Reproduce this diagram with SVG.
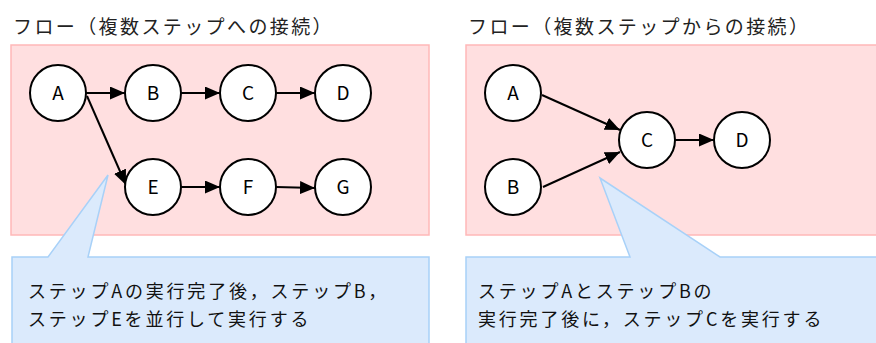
<svg xmlns="http://www.w3.org/2000/svg" width="876" height="343" viewBox="0 0 876 343">
<defs>
<style>
.panel{fill:#ffdfe0;stroke:#ffb8b8;stroke-width:1.5}
.callout{fill:#dbeafc;stroke:#a8d1f8;stroke-width:1.5}
.node circle{fill:#fff;stroke:#000;stroke-width:2}
.node text{font-family:"Noto Sans CJK JP","Liberation Sans",sans-serif;font-size:19px;text-anchor:middle;fill:#000}
.title{font-family:"Noto Sans CJK JP","Liberation Sans",sans-serif;font-size:19px;letter-spacing:2.4px;fill:#222}
.note{font-family:"Noto Sans CJK JP","Liberation Sans",sans-serif;font-size:18px;letter-spacing:2.8px;fill:#111}
.conn{stroke:#000;stroke-width:2;fill:none;marker-end:url(#arrow)}
</style>
<marker id="arrow" viewBox="0 0 15 13" refX="15" refY="6.5" markerWidth="15" markerHeight="13" markerUnits="userSpaceOnUse" orient="auto">
<path d="M0,0 L15,6.5 L0,13 Z" fill="#000"/>
</marker>
</defs>

<text class="title" x="13" y="34">フロー（複数ステップへの接続）</text>
<text class="title" x="468" y="34">フロー（複数ステップからの接続）</text>

<rect class="panel" x="11" y="45" width="418" height="190"/>
<rect class="panel" x="466" y="45" width="420" height="190"/>

<path class="callout" d="M12,257 L48,257 L108,175 L88,257 L429,257 L429,350 L12,350 Z"/>
<path class="callout" d="M466,257 L630,257 L600,178 L720,257 L886,257 L886,350 L466,350 Z"/>

<text class="note" x="28" y="298">ステップAの実行完了後，ステップB，</text>
<text class="note" x="28" y="326">ステップEを並行して実行する</text>
<text class="note" x="478" y="298">ステップAとステップBの</text>
<text class="note" x="478" y="326">実行完了後に，ステップCを実行する</text>

<g id="connectors">
<line class="conn" x1="86" y1="93" x2="125" y2="93"/>
<line class="conn" x1="181" y1="93" x2="220" y2="93"/>
<line class="conn" x1="276" y1="93" x2="315" y2="93"/>
<line class="conn" x1="87" y1="96" x2="126" y2="185"/>
<line class="conn" x1="181" y1="187" x2="220" y2="187"/>
<line class="conn" x1="276" y1="187" x2="315" y2="188"/>
<line class="conn" x1="542" y1="95" x2="620" y2="130"/>
<line class="conn" x1="543" y1="187" x2="620" y2="152"/>
<line class="conn" x1="675" y1="140" x2="714" y2="140"/>
</g>

<g id="L-A" class="node"><circle cx="58" cy="93" r="28"/><text x="58" y="100">A</text></g>
<g id="L-B" class="node"><circle cx="153" cy="93" r="28"/><text x="153" y="100">B</text></g>
<g id="L-C" class="node"><circle cx="248" cy="93" r="28"/><text x="248" y="100">C</text></g>
<g id="L-D" class="node"><circle cx="343" cy="93" r="28"/><text x="343" y="100">D</text></g>
<g id="L-E" class="node"><circle cx="153" cy="187" r="28"/><text x="153" y="194">E</text></g>
<g id="L-F" class="node"><circle cx="248" cy="187" r="28"/><text x="248" y="194">F</text></g>
<g id="L-G" class="node"><circle cx="343" cy="187" r="28"/><text x="343" y="194">G</text></g>

<g id="R-A" class="node"><circle cx="513" cy="93" r="28"/><text x="513" y="100">A</text></g>
<g id="R-B" class="node"><circle cx="513" cy="187" r="28"/><text x="513" y="194">B</text></g>
<g id="R-C" class="node"><circle cx="647" cy="140" r="28"/><text x="647" y="147">C</text></g>
<g id="R-D" class="node"><circle cx="742" cy="140" r="28"/><text x="742" y="147">D</text></g>
</svg>
